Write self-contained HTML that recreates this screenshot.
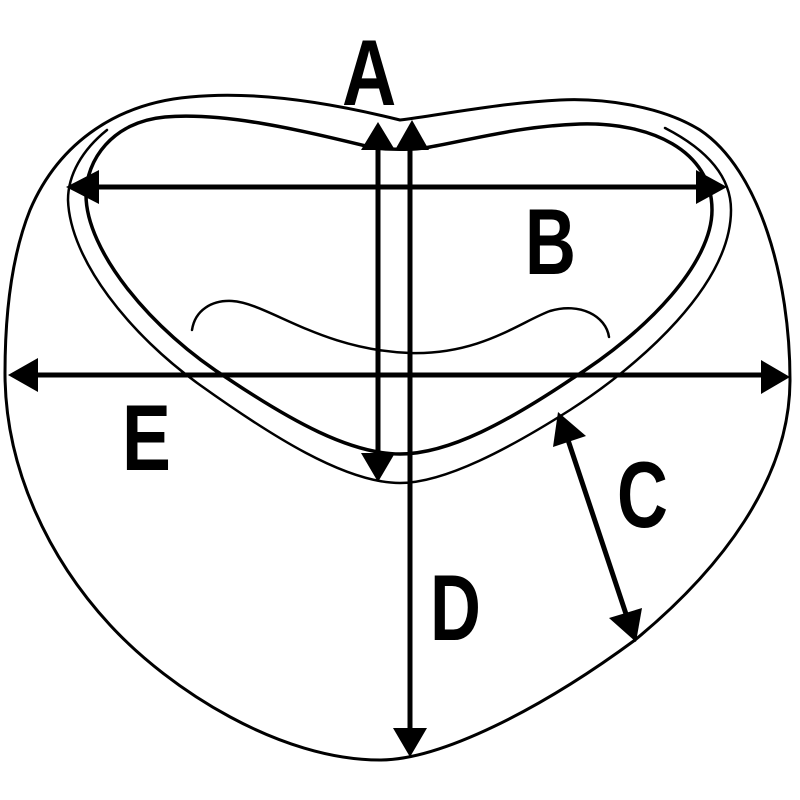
<!DOCTYPE html>
<html><head><meta charset="utf-8"><style>
html,body{margin:0;padding:0;background:#fff;}
svg{display:block;}
text{font-family:"Liberation Sans",sans-serif;font-weight:bold;font-size:94px;fill:#000;}
</style></head><body>
<svg width="800" height="800" viewBox="0 0 800 800" xmlns="http://www.w3.org/2000/svg">
<g fill="none" stroke="#000" stroke-linejoin="round" stroke-linecap="round">
<path stroke-width="3" d="M400 120 C340 105,260 90,190 97 C120 103,60 140,30 210 C10 260,5 320,5 373 C5 470,50 560,110 625 C170 690,280 760,380 760 C440 760,540 710,635 640 C720 570,790 480,790 380 C790 280,760 170,700 130 C660 105,600 98,560 100 C500 103,440 115,400 120 Z"/>
<path stroke-width="3.5" d="M370 147 C300 130,225 112,165 117 C112 122,86 160,86 195 C86 250,150 330,230 380 C290 420,350 454,400 454 C450 454,510 420,570 380 C650 330,712 262,712 210 C712 150,650 122,580 124 C520 126,470 140,430 147 C415 150,385 150,370 147 Z"/>
<path stroke-width="2.5" d="M107 130 C82 150,68 175,68 200 C70 260,130 335,200 385 C270 435,345 483,400 483 C445 483,510 448,570 410 C640 365,731 285,731 210 C731 172,700 146,665 128"/>
<path stroke-width="2.5" d="M192 330 C195 310,212 300,232 301 C268 303,320 350,410 353 C480 355,520 322,550 311 C580 302,606 316,609 337"/>
<path stroke-width="5" d="M378 150 V455 M410 150 V728 M95 187 H698 M36 375 H762 M568 440 L626 614"/>
</g>
<g fill="#000">
<polygon points="378,122 361,150 395,150"/>
<polygon points="378,482 361,453 395,453"/>
<polygon points="412,120 395,150 429,150"/>
<polygon points="410,757 393,728 427,728"/>
<polygon points="66,187 99,170 99,204"/>
<polygon points="727,187 696,170 696,204"/>
<polygon points="8,375 38,358 38,392"/>
<polygon points="790,377 761,360 761,394"/>
<polygon points="558,412 553,447 586,436"/>
<polygon points="636,642 609,618 642,608"/>
</g>
<text x="342" y="105" transform="translate(342 105) scale(0.8 1) translate(-342 -105)">A</text>
<text x="525" y="274" transform="translate(525 274) scale(0.75 1) translate(-525 -274)">B</text>
<text x="617" y="527" transform="translate(617 527) scale(0.75 1) translate(-617 -527)">C</text>
<text x="430" y="640" transform="translate(430 640) scale(0.75 1) translate(-430 -640)">D</text>
<text x="122" y="470" transform="translate(122 470) scale(0.78 1) translate(-122 -470)">E</text>
</svg>
</body></html>
